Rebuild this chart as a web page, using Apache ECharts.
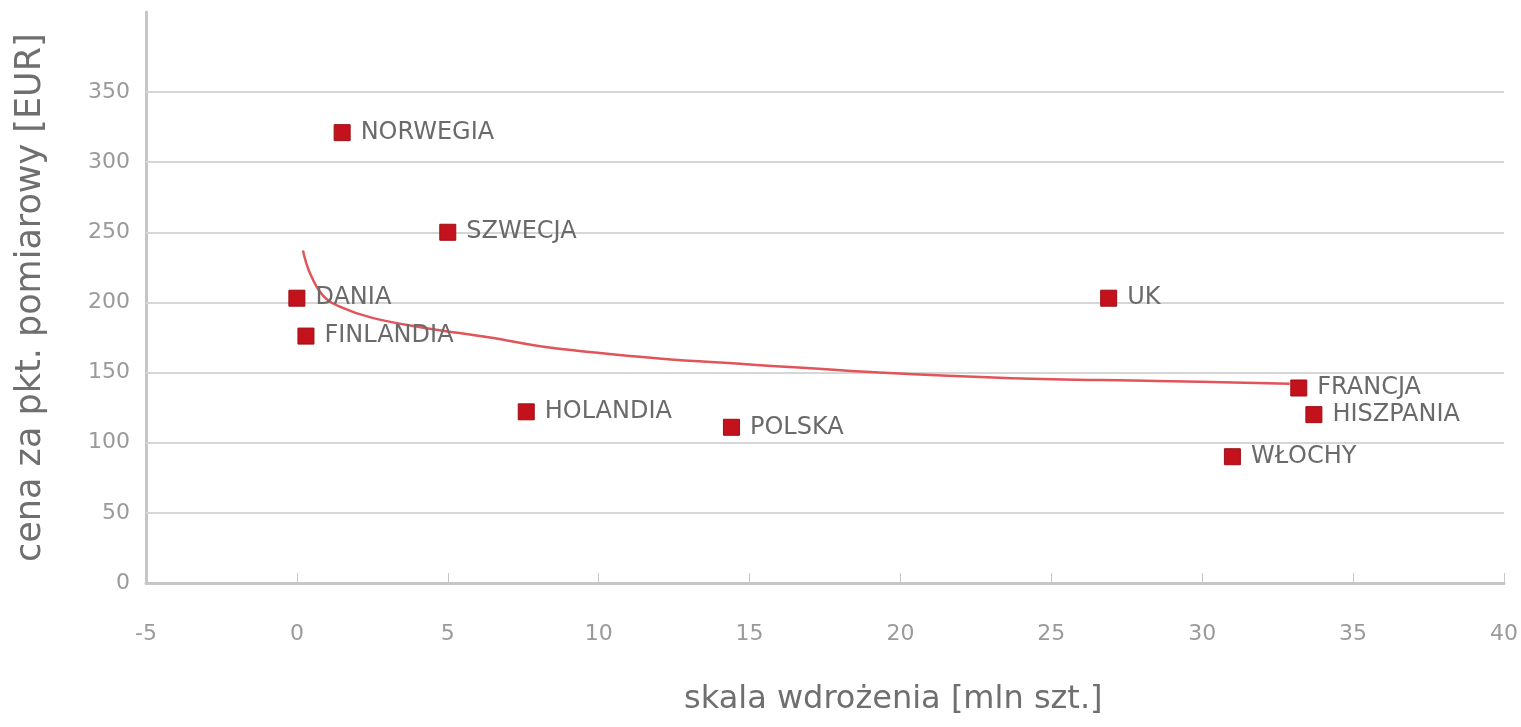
<!DOCTYPE html>
<html>
<head>
<meta charset="utf-8">
<script src="https://cdn.jsdelivr.net/npm/echarts@6/dist/echarts.min.js"></script>
<style>
  html, body { margin: 0; padding: 0; background: #fff; }
  #chart { width: 1521px; height: 727px; }
</style>
</head>
<body>
<div id="chart"></div>
<script>
var countries = ['NORWEGIA', 'SZWECJA', 'DANIA', 'FINLANDIA', 'HOLANDIA', 'POLSKA', 'UK', 'FRANCJA', 'HISZPANIA', 'WŁOCHY'];
var scale = [1.5, 5.0, 0.0, 0.3, 7.6, 14.4, 26.9, 33.2, 33.7, 31.0];
var price = [321, 250, 203, 176, 122, 111, 203, 139, 120, 90];

// trend line
var trendX = [0.2, 0.43, 0.86, 1.42, 2.5, 4.2, 6.4, 8.3, 12.0, 14.9, 19.3, 23.7, 28.5, 32.9];
var trendY = [237, 221, 205, 197, 189, 182, 175, 168, 160, 156, 150, 146, 144, 142];

var gridValues = [50, 100, 150, 200, 250, 300, 350];

var chart = echarts.init(document.getElementById('chart'));

var points = countries.map(function (name, i) {
  return { name: name, value: [scale[i], price[i]] };
});
var trend = trendX.map(function (x, i) { return [x, trendY[i]]; });

var font = 'DejaVu Sans';

var option = {
  animation: false,
  grid: { left: 146, right: 14, top: 12, bottom: 144 },
  xAxis: {
    type: 'value',
    min: -5, max: 40, interval: 5,
    axisLine: { show: true, onZero: false, lineStyle: { color: '#c6c6c6', width: 3 } },
    axisTick: { show: true, inside: true, length: 10, lineStyle: { color: '#c6c6c6', width: 1 } },
    axisLabel: { color: '#9a9a9a', fontSize: 22, fontFamily: font, margin: 40 },
    splitLine: { show: false }
  },
  yAxis: {
    type: 'value',
    min: 0, max: 407, interval: 50,
    axisLine: { show: true, onZero: false, lineStyle: { color: '#c6c6c6', width: 3 } },
    axisTick: { show: false },
    axisLabel: {
      color: '#9a9a9a', fontSize: 22, fontFamily: font, margin: 16,
      formatter: function (v) { return (v % 50 === 0 && v <= 350) ? v : ''; }
    },
    splitLine: { show: false }
  },
  graphic: [
    {
      type: 'text', left: 684, top: 684,
      style: { text: 'skala wdrożenia [mln szt.]', fill: '#6f6f6f', font: '32px "' + font + '"' }
    },
    {
      type: 'text', x: 13, y: 562, rotation: Math.PI / 2,
      style: { text: 'cena za pkt. pomiarowy [EUR]', fill: '#6f6f6f', font: '35px "' + font + '"', textVerticalAlign: 'top' }
    }
  ],
  series: [
    {
      type: 'line',
      data: trend,
      smooth: 0.4,
      showSymbol: false,
      silent: true,
      z: 3,
      lineStyle: { color: '#e0545a', width: 2.5 },
      markLine: {
        silent: true,
        symbol: 'none',
        label: { show: false },
        lineStyle: { color: '#d6d6d6', width: 2, type: 'solid' },
        data: gridValues.map(function (v) { return { yAxis: v }; }),
        z: 1
      }
    },
    {
      type: 'scatter',
      data: points,
      symbol: 'rect',
      symbolSize: 16,
      z: 4,
      itemStyle: { color: '#c4121c', borderColor: '#9e0e16', borderWidth: 1, opacity: 1 },
      label: {
        show: true,
        position: 'right',
        distance: 10,
        formatter: '{b}',
        color: '#6a6a6a',
        fontSize: 24,
        fontFamily: font
      }
    }
  ]
};

chart.setOption(option);
</script>
</body>
</html>
